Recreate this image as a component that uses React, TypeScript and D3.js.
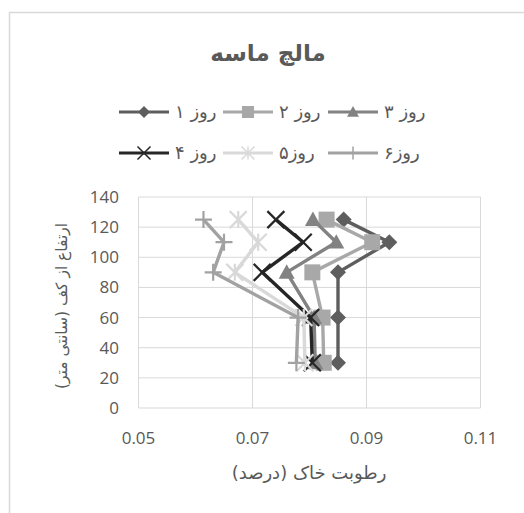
import React, { useEffect, useRef } from 'react';
import * as d3 from 'd3';

// heights (cm above floor) and soil moisture per day
const heights = [125, 110, 90, 60, 30];
const day1 = [0.086, 0.094, 0.085, 0.085, 0.085];
const day2 = [0.083, 0.091, 0.0805, 0.0823, 0.0825];
const day3 = [0.0806, 0.0847, 0.076, 0.0808, 0.081];
const day4 = [0.0741, 0.0789, 0.0717, 0.0802, 0.0805];
const day5 = [0.0675, 0.071, 0.0669, 0.079, 0.0792];
const day6 = [0.0614, 0.065, 0.0631, 0.078, 0.0777];

const seriesNames = ['روز ۱', 'روز ۲', 'روز ۳', 'روز ۴', 'روز۵', 'روز۶'];
const seriesValues = [day1, day2, day3, day4, day5, day6];
const seriesColors = ['#5e5e5e', '#a8a8a8', '#828282', '#262626', '#d9d9d9', '#a2a2a2'];
const seriesMarkers = ['diamond', 'square', 'triangle', 'times', 'asterisk', 'plus'];

const xTicks = [0.05, 0.07, 0.09, 0.11];
const yTicks = [0, 20, 40, 60, 80, 100, 120, 140];

const title = 'مالچ ماسه';
const xTitle = 'رطوبت خاک (درصد)';
const yTitle = 'ارتفاع از کف (سانتی متر)';

const arabicFont = '"DejaVu Sans", sans-serif';
const numFont = '"Open Sans", sans-serif';

// marker path centred on 0,0
function markerPath(kind: string, s: number): string {
  const h = s / 2;
  if (kind === 'diamond') return `M0,${-h}L${h},0L0,${h}L${-h},0Z`;
  if (kind === 'square') return `M${-h},${-h}H${h}V${h}H${-h}Z`;
  if (kind === 'triangle') return `M0,${-h}L${h},${h * 0.8}L${-h},${h * 0.8}Z`;
  if (kind === 'times') return `M${-h},${-h}L${h},${h}M${h},${-h}L${-h},${h}`;
  if (kind === 'plus') return `M${-h},0H${h}M0,${-h}V${h}`;
  // asterisk
  return `M${-h},${-h}L${h},${h}M${h},${-h}L${-h},${h}M0,${-h}V${h}`;
}

const isFilled = (k: string) => k === 'diamond' || k === 'square' || k === 'triangle';

const App = () => {
  const svgRef = useRef<SVGSVGElement>(null);

  useEffect(() => {
    const width = 524;
    const height = 513;
    const svg = d3.select(svgRef.current);
    svg.selectAll('*').remove();
    svg.attr('width', width).attr('height', height);

    svg.append('rect').attr('width', width).attr('height', height).attr('fill', '#fff');

    // chart border (cropped on the right and bottom)
    svg.append('path')
      .attr('d', `M9.5,${height}V12.5H${width}`)
      .attr('fill', 'none')
      .attr('stroke', '#d9d9d9')
      .attr('stroke-width', 1.5);

    const x = d3.scaleLinear().domain([0.05, 0.11]).range([138.5, 480.5]);
    const y = d3.scaleLinear().domain([0, 140]).range([408, 197]);

    const g = svg.append('g');

    // Gridlines
    g.selectAll('.vgrid')
      .data(xTicks)
      .enter()
      .append('line')
      .attr('x1', d => x(d)).attr('x2', d => x(d))
      .attr('y1', y(0)).attr('y2', y(140))
      .attr('stroke', '#d9d9d9').attr('stroke-width', 1);
    g.selectAll('.hgrid')
      .data(yTicks)
      .enter()
      .append('line')
      .attr('x1', x(0.05)).attr('x2', x(0.11))
      .attr('y1', d => y(d)).attr('y2', d => y(d))
      .attr('stroke', '#d9d9d9').attr('stroke-width', 1);

    // Tick labels
    g.selectAll('.xt')
      .data(xTicks)
      .enter()
      .append('text')
      .attr('x', d => x(d))
      .attr('y', 438)
      .attr('dy', '0.35em')
      .attr('text-anchor', 'middle')
      .attr('font-family', numFont)
      .attr('font-size', 17)
      .attr('fill', '#595959')
      .text(d => d.toFixed(2));
    g.selectAll('.yt')
      .data(yTicks)
      .enter()
      .append('text')
      .attr('x', 119)
      .attr('y', d => y(d))
      .attr('dy', '0.35em')
      .attr('text-anchor', 'end')
      .attr('font-family', numFont)
      .attr('font-size', 17)
      .attr('fill', '#595959')
      .text(d => d);

    // Series
    const line = d3.line<number>()
      .x(d => x(d[0]))
      .y(d => y(d[1]));

    seriesValues.forEach((vals, i) => {
      const pts = vals.map((v, j) => [v, heights[j]] as [number, number]);
      const color = seriesColors[i];
      const kind = seriesMarkers[i];
      const sg = g.append('g');
      sg.append('path')
        .attr('d', line(pts as any))
        .attr('fill', 'none')
        .attr('stroke', color)
        .attr('stroke-width', 3.4)
        .attr('stroke-linejoin', 'round');
      sg.selectAll('path.m')
        .data(pts)
        .enter()
        .append('path')
        .attr('class', 'm')
        .attr('transform', d => `translate(${x(d[0])},${y(d[1])})`)
        .attr('d', markerPath(kind, isFilled(kind) ? 16 : 17))
        .attr('fill', isFilled(kind) ? color : 'none')
        .attr('stroke', color)
        .attr('stroke-width', isFilled(kind) ? 0 : 2.2);
    });

    // Legend
    const legX = [119, 223, 328];
    const legY = [112, 153];
    seriesNames.forEach((name, i) => {
      const lx = legX[i % 3];
      const ly = legY[Math.floor(i / 3)];
      const kind = seriesMarkers[i];
      const color = seriesColors[i];
      const lg = svg.append('g');
      lg.append('line')
        .attr('x1', lx).attr('x2', lx + 50)
        .attr('y1', ly).attr('y2', ly)
        .attr('stroke', color).attr('stroke-width', 3);
      lg.append('path')
        .attr('transform', `translate(${lx + 25},${ly})`)
        .attr('d', markerPath(kind, isFilled(kind) ? 12 : 13))
        .attr('fill', isFilled(kind) ? color : 'none')
        .attr('stroke', color)
        .attr('stroke-width', isFilled(kind) ? 0 : 1.5);
      lg.append('text')
        .attr('x', lx + 56)
        .attr('y', ly)
        .attr('dy', '0.35em')
        .attr('font-family', arabicFont)
        .attr('font-size', 18)
        .attr('fill', '#595959')
        .text(name);
    });

    // Title
    svg.append('text')
      .attr('x', 268)
      .attr('y', 53)
      .attr('dy', '0.35em')
      .attr('text-anchor', 'middle')
      .attr('font-family', arabicFont)
      .attr('font-size', 23)
      .attr('font-weight', 'bold')
      .attr('fill', '#595959')
      .text(title);

    // Axis titles
    svg.append('text')
      .attr('x', 309)
      .attr('y', 473)
      .attr('dy', '0.35em')
      .attr('text-anchor', 'middle')
      .attr('font-family', arabicFont)
      .attr('font-size', 18)
      .attr('fill', '#595959')
      .text(xTitle);
    svg.append('text')
      .attr('transform', 'translate(62,306) rotate(-90)')
      .attr('dy', '0.35em')
      .attr('text-anchor', 'middle')
      .attr('font-family', arabicFont)
      .attr('font-size', 15.5)
      .attr('fill', '#595959')
      .text(yTitle);
  }, []);

  return <svg ref={svgRef} style={{ position: 'absolute', left: 0, top: 0, display: 'block' }} />;
};

export default App;
